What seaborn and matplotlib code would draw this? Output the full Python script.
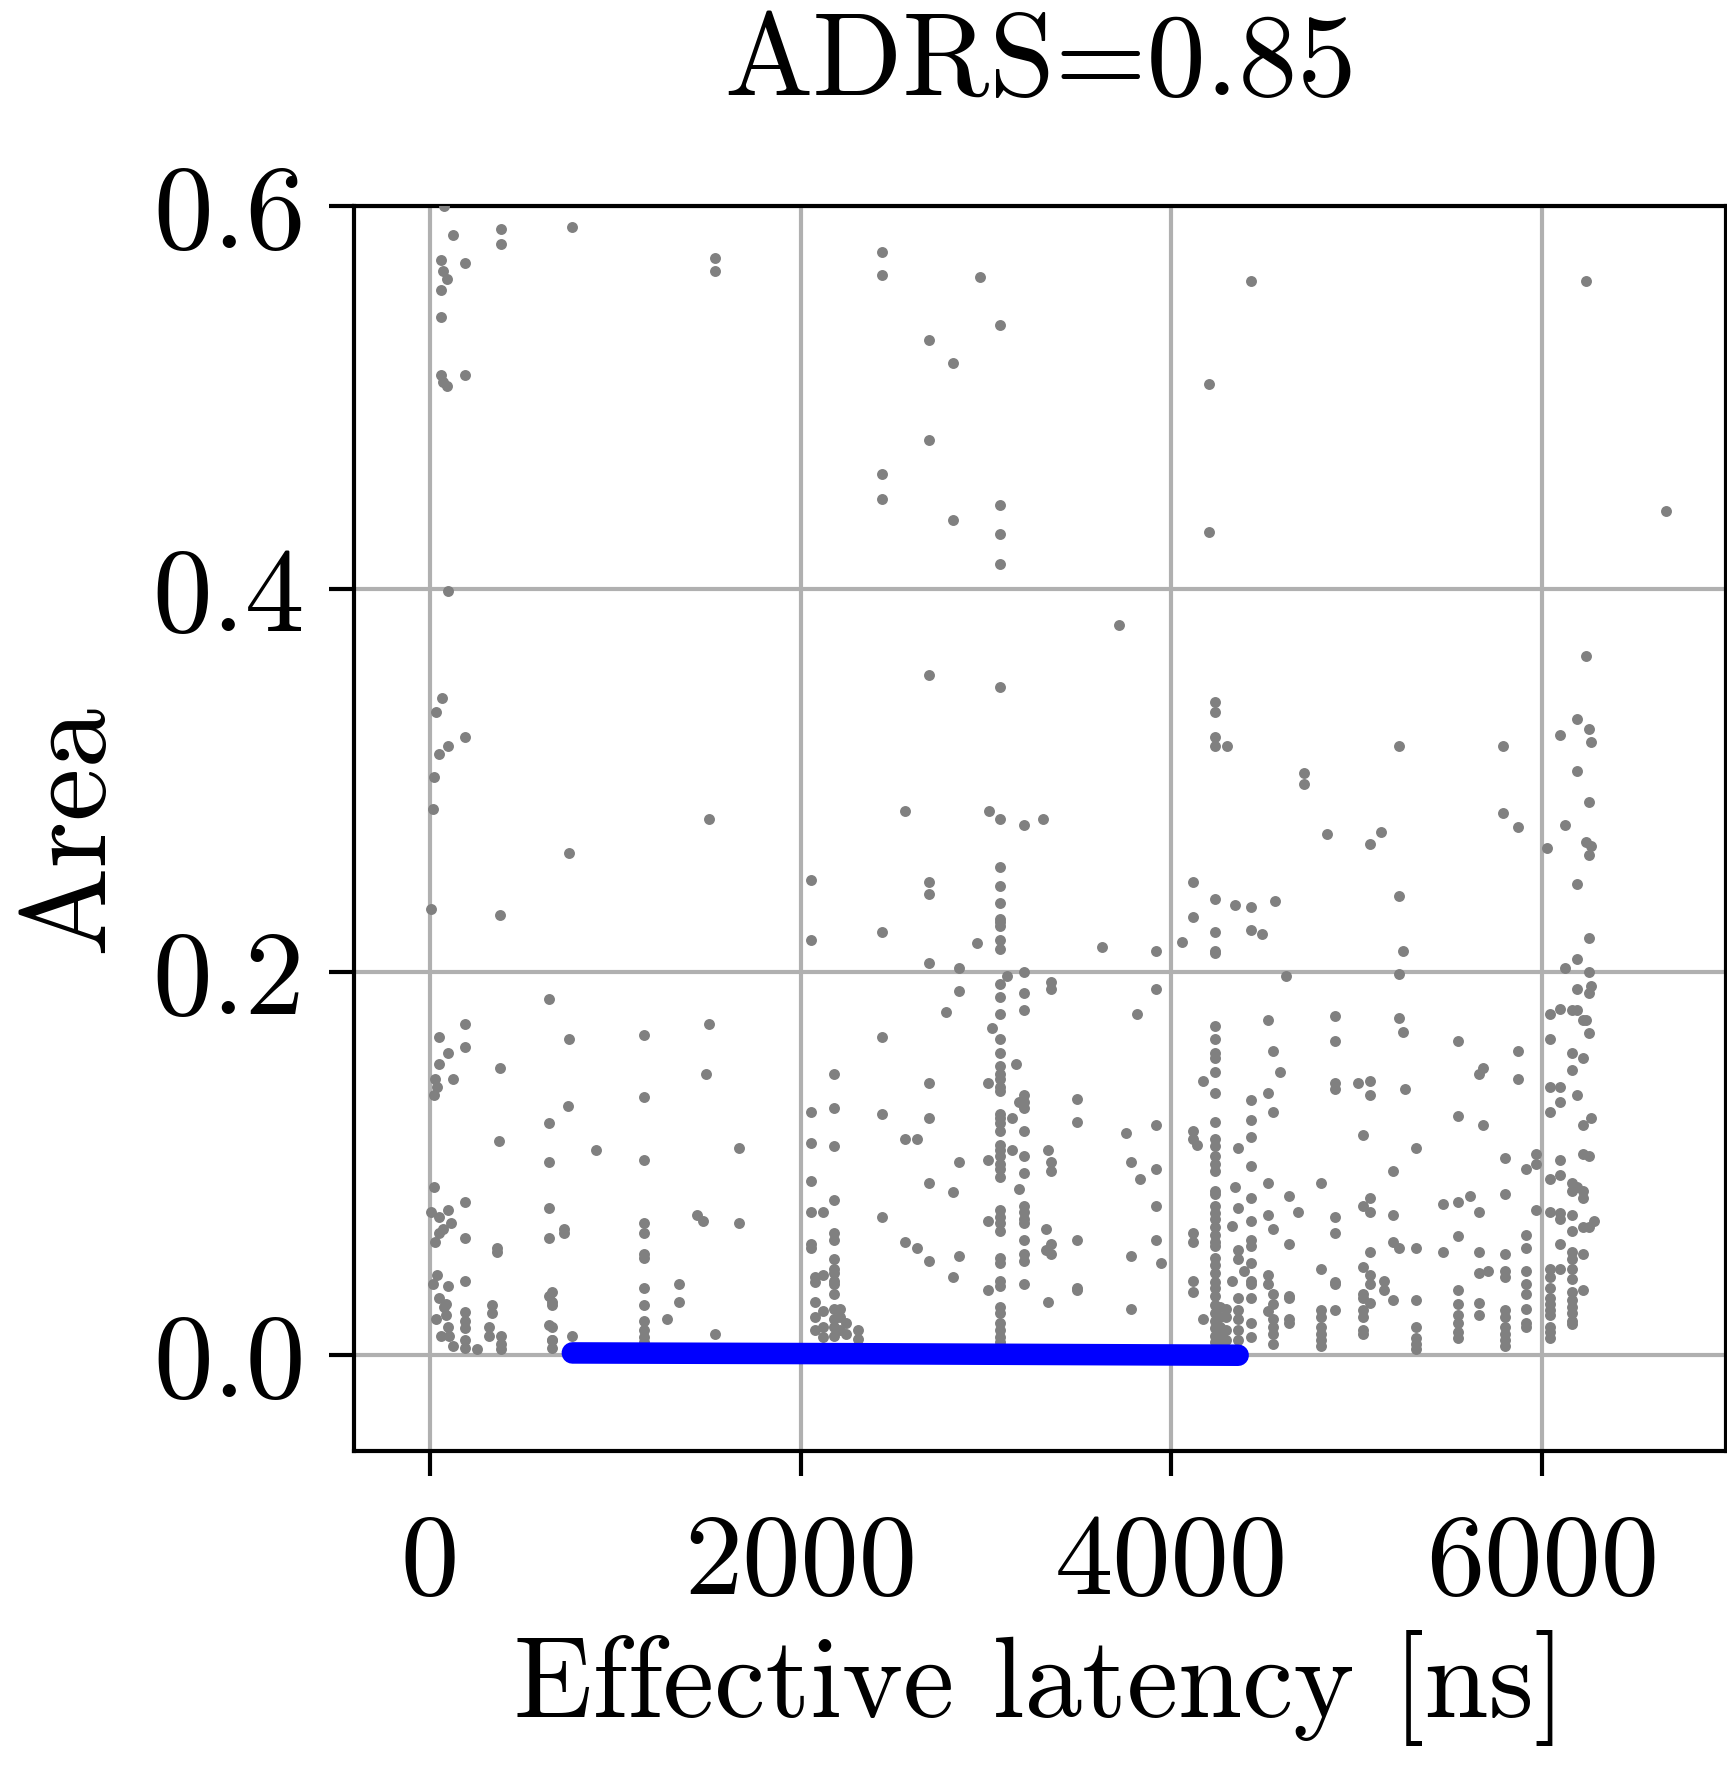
import numpy as np
import pandas as pd
import matplotlib
matplotlib.use("Agg")
import matplotlib.pyplot as plt
import seaborn as sns

# ---- data (latency column -> area values) ----
col_latency = [
    75, 124, 61, 189, 68, 93, 95, 63, 32, 47, 23, 14, 4, 122, 27, 40, 112, 18, 86, 76, 103,
    381, 376, 371, 364, 255, 334, 318, 383,
    766, 752, 642, 745, 725, 660, 768, 897,
    1155, 1280, 1345, 1536, 1505, 1489, 1665, 1439, 1473,
    2054, 2075, 2181, 2119, 2212, 2244, 2307,
    2437, 2565, 2626, 2694, 2820, 2852, 2784, 2967, 2951, 3018, 3032, 3012,
    3075, 3115, 3162, 3140, 3203, 3180, 3306, 3349, 3333, 3322, 3492,
    3626, 3719, 3753, 3780, 3831, 3816, 3917, 3946,
    4055, 4118, 4136, 4169, 4201, 4233, 4298, 4262, 4294, 4275, 4325, 4343, 4341,
    4357, 4392, 4431, 4491, 4519, 4550, 4557, 4586, 4617, 4635, 4685, 4717,
    4807, 4841, 4885, 5005, 5032, 5071, 5133, 5145, 5197, 5226, 5248, 5260, 5320,
    5464, 5545, 5611, 5658, 5681, 5710, 5789, 5801, 5872, 5913, 5967,
    6028, 6043, 6097, 6125, 6161, 6188, 6223, 6235, 6251, 6264, 6280, 6670,
]
col_area = [
    [0.600], [0.585], [0.572, 0.556, 0.542, 0.512, 0.010],
    [0.570, 0.512, 0.323, 0.173, 0.161, 0.080, 0.061, 0.039, 0.0225, 0.018, 0.014, 0.008, 0.004],
    [0.566, 0.508, 0.066], [0.562, 0.506], [0.399, 0.318, 0.158, 0.076, 0.036, 0.015],
    [0.343], [0.336, 0.019], [0.314, 0.166, 0.152, 0.072, 0.064, 0.030], [0.302, 0.136, 0.088],
    [0.285], [0.233, 0.075], [0.144, 0.005], [0.144, 0.059], [0.140, 0.042], [0.069], [0.037],
    [0.027, 0.021], [0.025], [0.010],
    [0.588, 0.580], [0.230, 0.150], [0.112], [0.056, 0.054], [0.003], [0.026, 0.022],
    [0.0145, 0.010], [0.010, 0.006, 0.003],
    [0.589], [0.262, 0.165], [0.186, 0.121, 0.101, 0.077, 0.061, 0.031, 0.016], [0.130],
    [0.066, 0.064], [0.033, 0.028, 0.026, 0.015, 0.008, 0.008, 0.004], [0.010], [0.107],
    [0.167, 0.135, 0.102, 0.069, 0.064, 0.053, 0.051, 0.035, 0.026, 0.018, 0.013, 0.0096, 0.007],
    [0.019], [0.037, 0.028], [0.573, 0.566, 0.011], [0.280, 0.173], [0.147], [0.108, 0.069],
    [0.073], [0.070],
    [0.248, 0.217, 0.127, 0.111, 0.091, 0.075, 0.058, 0.056], [0.041, 0.038, 0.028, 0.020, 0.013],
    [0.147, 0.129, 0.109, 0.081, 0.064, 0.060, 0.050, 0.045, 0.043, 0.039, 0.037, 0.032, 0.024,
     0.019, 0.015, 0.010],
    [0.075, 0.042, 0.023, 0.015, 0.0096], [0.024, 0.020, 0.013], [0.0166, 0.0113], [0.0134, 0.0087],
    [0.576, 0.564, 0.460, 0.447, 0.221, 0.166, 0.126, 0.072], [0.284, 0.113, 0.059], [0.113, 0.056],
    [0.530, 0.478, 0.355, 0.247, 0.241, 0.205, 0.142, 0.124, 0.090, 0.049],
    [0.518, 0.436, 0.085, 0.041], [0.202, 0.190, 0.101, 0.052], [0.179], [0.563], [0.215],
    [0.284], [0.171], [0.142, 0.102, 0.070, 0.034],
    [0.538, 0.444, 0.429, 0.413, 0.349, 0.280, 0.255, 0.245, 0.236, 0.228, 0.226, 0.224, 0.217,
     0.212, 0.194, 0.187, 0.178, 0.165, 0.158, 0.151, 0.147, 0.144, 0.140, 0.138, 0.126, 0.124,
     0.121, 0.117, 0.110, 0.107, 0.104, 0.100, 0.097, 0.093, 0.076, 0.072, 0.069, 0.065, 0.051,
     0.048, 0.039, 0.036, 0.025, 0.022, 0.017, 0.013, 0.0096, 0.007],
    [0.198], [0.152], [0.124, 0.107],
    [0.277, 0.200, 0.189, 0.180, 0.136, 0.132, 0.129, 0.117, 0.104, 0.095, 0.078, 0.075, 0.071,
     0.069, 0.060, 0.053, 0.049, 0.037],
    [0.132, 0.087], [0.280], [0.195, 0.191, 0.101, 0.096, 0.058, 0.053], [0.107, 0.028],
    [0.066, 0.055], [0.134, 0.122, 0.060, 0.035, 0.034],
    [0.213], [0.381], [0.116], [0.101, 0.052, 0.024], [0.092], [0.178],
    [0.211, 0.191, 0.120, 0.097, 0.078, 0.060], [0.048],
    [0.216], [0.247, 0.229, 0.117, 0.113, 0.064, 0.059, 0.039, 0.033], [0.110], [0.143, 0.019],
    [0.507, 0.430],
    [0.341, 0.336, 0.323, 0.318, 0.238, 0.221, 0.211, 0.210, 0.172, 0.165, 0.158, 0.155, 0.148,
     0.137, 0.122, 0.113, 0.109, 0.104, 0.100, 0.096, 0.086, 0.084, 0.078, 0.074, 0.071, 0.067,
     0.063, 0.059, 0.057, 0.051, 0.047, 0.043, 0.038, 0.035, 0.031, 0.026, 0.022, 0.018, 0.014,
     0.010, 0.007, 0.0035, 0.001],
    [0.318], [0.025, 0.020, 0.015, 0.011, 0.008], [0.024, 0.020, 0.013, 0.008], [0.011, 0.006],
    [0.0675, 0.039], [0.088], [0.235],
    [0.108, 0.077, 0.055, 0.050, 0.030, 0.0235, 0.019, 0.013, 0.008], [0.044],
    [0.561, 0.234, 0.222, 0.133, 0.123, 0.114, 0.099, 0.082, 0.070, 0.060, 0.057, 0.048, 0.039,
     0.037, 0.030, 0.017, 0.0096],
    [0.220], [0.175, 0.137, 0.090, 0.073, 0.042, 0.037, 0.023],
    [0.159, 0.127, 0.066, 0.032, 0.027, 0.019, 0.015, 0.011, 0.006], [0.237], [0.148], [0.198],
    [0.083, 0.058, 0.031, 0.030, 0.019, 0.017], [0.075], [0.304, 0.298],
    [0.090, 0.045, 0.0235, 0.020, 0.015, 0.011, 0.008, 0.005], [0.272],
    [0.177, 0.164, 0.142, 0.139, 0.072, 0.064, 0.038, 0.037, 0.0235], [0.142],
    [0.115, 0.078, 0.046, 0.032, 0.030, 0.0235, 0.020, 0.013, 0.011],
    [0.267, 0.143, 0.136, 0.082, 0.075, 0.054, 0.042, 0.037, 0.0275], [0.273], [0.039, 0.034],
    [0.096, 0.073, 0.059, 0.029], [0.318, 0.240, 0.199, 0.176, 0.056], [0.211, 0.169], [0.139],
    [0.108, 0.056, 0.029, 0.0145, 0.009, 0.006, 0.0035],
    [0.079, 0.054], [0.164, 0.125, 0.080, 0.062, 0.034, 0.027, 0.021, 0.017, 0.012, 0.009],
    [0.083], [0.147, 0.075, 0.054, 0.043, 0.0275, 0.021], [0.150, 0.120], [0.044], [0.318, 0.283],
    [0.103, 0.084, 0.053, 0.044, 0.041, 0.0235, 0.020, 0.015, 0.011, 0.008, 0.005],
    [0.276, 0.159, 0.144], [0.097, 0.063, 0.056, 0.044, 0.037, 0.032, 0.024, 0.017, 0.015],
    [0.105, 0.100, 0.076],
    [0.265],
    [0.178, 0.165, 0.140, 0.127, 0.092, 0.075, 0.045, 0.041, 0.035, 0.030, 0.027, 0.0235, 0.021,
     0.015, 0.012, 0.009],
    [0.324, 0.181, 0.140, 0.132, 0.102, 0.094, 0.074, 0.071, 0.058, 0.045], [0.277, 0.202],
    [0.180, 0.158, 0.149, 0.090, 0.086, 0.073, 0.065, 0.054, 0.050, 0.045, 0.040, 0.033, 0.029,
     0.025, 0.022, 0.018, 0.0165],
    [0.332, 0.305, 0.246, 0.207, 0.191, 0.180, 0.136, 0.088],
    [0.175, 0.155, 0.120, 0.105, 0.086, 0.082, 0.067, 0.053, 0.034], [0.561, 0.365, 0.268, 0.175],
    [0.327, 0.289, 0.261, 0.218, 0.200, 0.189, 0.168, 0.104, 0.067], [0.320, 0.266, 0.193, 0.124],
    [0.070], [0.441],
]

# Pareto front (blue)
pareto_latency = [768, 2300, 4360]
pareto_area = [0.0012, 0.0008, 0.0]

x_ticks = [0, 2000, 4000, 6000]
y_ticks = [0.0, 0.2, 0.4, 0.6]
title = "ADRS=0.85"
x_label = "Effective latency [ns]"
y_label = "Area"

# ---- build table ----
rows = [(lat, a) for lat, areas in zip(col_latency, col_area) for a in areas]
df = pd.DataFrame(rows, columns=["latency", "area"])

sns.set_style("ticks")
plt.rcParams["font.family"] = ["cmr10", "DejaVu Serif"]
plt.rcParams["mathtext.fontset"] = "cm"
plt.rcParams["axes.formatter.use_mathtext"] = True
plt.rcParams["axes.unicode_minus"] = False
for key in ["text.color", "axes.labelcolor", "xtick.color", "ytick.color",
            "xtick.labelcolor", "ytick.labelcolor"]:
    plt.rcParams[key] = "black"

W, H = 1727, 1773
fig = plt.figure(figsize=(W / 100, H / 100), dpi=100)
ax = fig.add_axes([354 / W, 1 - 1451 / H, (1726 - 354) / W, (1451 - 206) / H])

sns.scatterplot(data=df, x="latency", y="area", color="#808080", s=62,
                linewidth=0, ax=ax, zorder=3, legend=False)
sns.lineplot(x=pareto_latency, y=pareto_area, color="#0000ff", linewidth=15.5,
             sort=False, ax=ax, zorder=4, legend=False)

ax.set_xlim(-410, 6992)
ax.set_ylim(-0.05, 0.6)
ax.set_xticks(x_ticks)
ax.set_yticks(y_ticks)
ax.set_xticklabels([str(t) for t in x_ticks])
ax.set_yticklabels([f"{t:.1f}" for t in y_ticks])

ax.grid(True, color="#b0b0b0", linewidth=3.0)
ax.set_axisbelow(True)
for sp in ax.spines.values():
    sp.set_linewidth(3.0)
    sp.set_color("black")

ax.tick_params(axis="both", length=18, width=3.0, color="black", labelcolor="black")
ax.tick_params(axis="x", labelsize=84, pad=27)
ax.tick_params(axis="y", labelsize=86, pad=17)

ax.set_title(title, fontsize=85, pad=80, color="black")
ax.set_xlabel(x_label, fontsize=83, labelpad=10, color="black")
ax.set_ylabel(y_label, fontsize=86, labelpad=20, color="black")

fig.savefig("out.png", dpi=100)
